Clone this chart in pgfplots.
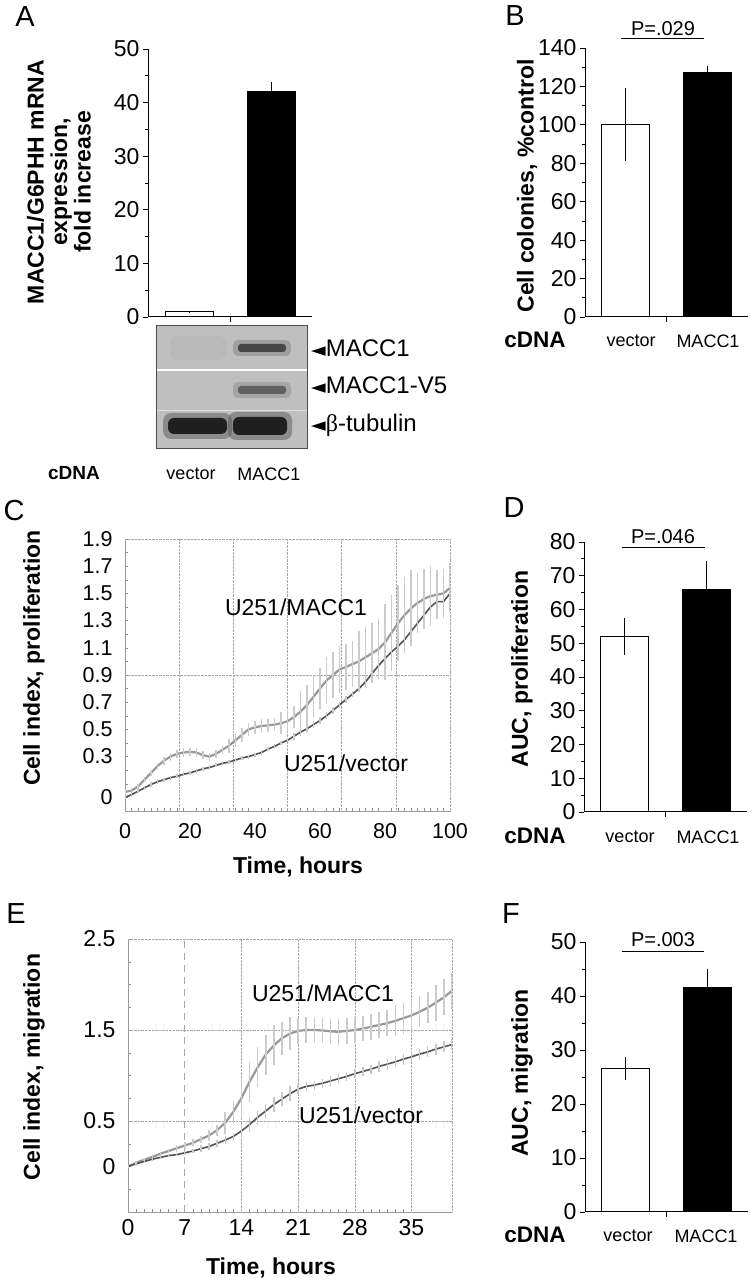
\documentclass[border=0pt]{standalone}
\usepackage{fontspec}
\setmainfont{Liberation Sans}
\newfontfamily\dejavu{DejaVu Sans}
\newfontfamily\sergreek{Liberation Serif}
\usepackage{pgfplots}
\usepackage{pgfplotstable}
\pgfplotsset{compat=1.18}
\newcommand\tk{\fontsize{23}{25}\selectfont}
\newcommand\tkc{\fontsize{21.5}{23}\selectfont}
\newcommand\lab{\fontsize{23}{23.5}\selectfont\bfseries}
\newcommand\cat{\fontsize{18}{20}\selectfont}
\newcommand\cdna{\fontsize{19}{21}\selectfont\bfseries}
\newcommand\cdnab{\fontsize{22.5}{24}\selectfont\bfseries}
\newcommand\pl{\fontsize{29}{31}\selectfont}
\newcommand\pv{\fontsize{20}{22}\selectfont}
\newcommand\cl{\fontsize{23}{25}\selectfont}
\newcommand\bl{\fontsize{24}{26}\selectfont}

\pgfplotstableread{
t v e
0 0.04 0.02
2 0.05 0.02
4 0.08 0.02
6 0.13 0.02
8 0.18 0.02
10 0.23 0.02
12 0.27 0.03
14 0.30 0.03
16 0.32 0.03
18 0.33 0.03
20 0.335 0.03
22 0.33 0.03
24 0.31 0.03
26 0.30 0.03
28 0.32 0.03
30 0.35 0.03
32 0.38 0.05
34 0.42 0.05
36 0.46 0.05
38 0.50 0.05
40 0.515 0.05
42 0.525 0.05
44 0.53 0.05
46 0.535 0.05
48 0.545 0.08
50 0.56 0.08
52 0.59 0.08
54 0.63 0.15
56 0.68 0.15
58 0.74 0.15
60 0.80 0.15
62 0.86 0.17
64 0.90 0.17
66 0.94 0.17
68 0.96 0.17
70 0.98 0.17
72 1.00 0.22
74 1.03 0.22
76 1.06 0.22
78 1.09 0.22
80 1.14 0.28
82 1.21 0.28
84 1.28 0.28
86 1.34 0.28
88 1.39 0.28
90 1.43 0.22
92 1.46 0.22
94 1.48 0.22
96 1.49 0.18
98 1.50 0.18
100 1.54 0.18
}\cMACC

\pgfplotstableread{
t v e
0 0.00 0.015
2 0.02 0.015
4 0.045 0.015
6 0.07 0.015
8 0.095 0.015
10 0.115 0.015
12 0.13 0.015
14 0.145 0.015
16 0.155 0.015
18 0.17 0.015
20 0.18 0.015
22 0.195 0.015
24 0.21 0.015
26 0.22 0.015
28 0.235 0.015
30 0.25 0.015
32 0.26 0.015
34 0.275 0.015
36 0.29 0.015
38 0.30 0.015
40 0.315 0.015
42 0.33 0.015
44 0.355 0.015
46 0.375 0.015
48 0.40 0.015
50 0.42 0.015
52 0.45 0.025
54 0.48 0.025
56 0.505 0.025
58 0.535 0.025
60 0.565 0.025
62 0.60 0.025
64 0.64 0.025
66 0.68 0.025
68 0.72 0.025
70 0.76 0.025
72 0.80 0.025
74 0.85 0.025
76 0.91 0.025
78 0.97 0.025
80 1.02 0.025
82 1.07 0.04
84 1.11 0.04
86 1.16 0.04
88 1.22 0.04
90 1.28 0.04
92 1.34 0.04
94 1.40 0.04
96 1.44 0.04
98 1.44 0.04
100 1.50 0.04
}\cVec

\pgfplotstableread{
t v e
0 0.00 0.02
1 0.04 0.02
2 0.075 0.02
3 0.105 0.02
4 0.14 0.02
5 0.17 0.02
6 0.20 0.04
7 0.23 0.04
8 0.26 0.04
9 0.30 0.04
10 0.34 0.06
11 0.40 0.06
12 0.48 0.12
13 0.60 0.12
14 0.75 0.22
15 0.93 0.22
16 1.09 0.22
17 1.23 0.22
18 1.33 0.22
19 1.41 0.18
20 1.46 0.18
21 1.49 0.14
22 1.50 0.14
23 1.50 0.14
24 1.495 0.14
25 1.485 0.14
26 1.48 0.14
27 1.49 0.14
28 1.50 0.14
29 1.515 0.14
30 1.535 0.14
31 1.555 0.14
32 1.575 0.14
33 1.60 0.17
34 1.63 0.17
35 1.66 0.17
36 1.70 0.17
37 1.745 0.17
38 1.80 0.20
39 1.86 0.20
40 1.93 0.20
}\eMACC

\pgfplotstableread{
t v e
0 0.00 0.02
1 0.03 0.02
2 0.055 0.02
3 0.08 0.02
4 0.10 0.02
5 0.12 0.02
6 0.13 0.02
7 0.15 0.02
8 0.17 0.02
9 0.195 0.04
10 0.22 0.04
11 0.255 0.04
12 0.29 0.04
13 0.33 0.04
14 0.39 0.08
15 0.46 0.08
16 0.54 0.08
17 0.61 0.08
18 0.68 0.08
19 0.74 0.08
20 0.80 0.08
21 0.85 0.05
22 0.88 0.05
23 0.895 0.05
24 0.915 0.05
25 0.94 0.05
26 0.965 0.05
27 0.99 0.05
28 1.02 0.05
29 1.045 0.05
30 1.07 0.05
31 1.10 0.06
32 1.125 0.06
33 1.15 0.06
34 1.18 0.06
35 1.205 0.06
36 1.235 0.06
37 1.26 0.06
38 1.29 0.06
39 1.315 0.06
40 1.34 0.06
}\eVec

\pgfplotsset{
  barax/.style={scale only axis, width=163pt, height=270pt, xmin=-0.5, xmax=1.5,
    axis x line*=bottom, axis y line*=left, axis line style={black, line width=1pt},
    xtick={0.5}, xticklabels={}, tick align=outside, major tick length=5pt,
    minor tick length=3pt, tick style={black, line width=0.8pt}, minor y tick num=1,
    ymin=0, ticklabel style={font=\tk}, /pgf/number format/assume math mode=true, clip=false},
  whitebar/.style={ybar, bar width=48pt, bar shift=0pt, fill=white, draw=black, line width=1pt,
    error bars/.cd, y dir=both, y explicit, error mark=none, error bar style={black, line width=1pt}},
  blackbar/.style={ybar, bar width=48pt, bar shift=0pt, fill=black, draw=black, line width=1pt,
    error bars/.cd, y dir=both, y explicit, error mark=none, error bar style={black, line width=1pt}},
  lineax/.style={scale only axis, axis x line*=bottom, axis y line*=left,
    axis line style={black!40, line width=0.6pt}, tick align=inside, major tick length=0pt,
    minor tick length=3pt, minor tick style={black!45, line width=0.5pt},
    ticklabel style={font=\tk}, /pgf/number format/assume math mode=true,
    major grid style={densely dotted, black!35, line width=0.6pt}},
  macc/.style={no marks, black!40, line width=2.2pt,
    error bars/.cd, y dir=both, y explicit, error mark=none, error bar style={black!20, line width=1.6pt}},
  vec/.style={no marks, black!68, line width=1.6pt,
    error bars/.cd, y dir=both, y explicit, error mark=none, error bar style={black!22, line width=1.4pt}},
}

\begin{document}
\begin{tikzpicture}[x=1pt,y=1pt]
\fill[white] (0,0) rectangle (752,1282);

% ---------- Panel A ----------
\begin{axis}[barax, anchor=south west, at={(148pt,965pt)}, width=164pt, height=268pt, ymax=50, ytick distance=10]
\addplot[whitebar] coordinates {(0,1) +- (0,0.15)};
\addplot[blackbar] coordinates {(1,42) +- (0,1.8)};
\end{axis}

% blot
\fill[black!25] (156,834) rectangle (307,957);
\fill[black!29, opacity=0.6, rounded corners=8pt] (170,922) rectangle (226,946);
\draw[white, line width=1.8pt] (156,912) -- (307,912);
\draw[black!12, line width=0.8pt] (156,872) -- (307,872);
\fill[black!50, opacity=0.5, rounded corners=5pt] (233,926) rectangle (291,942);
\fill[black!72, rounded corners=3pt] (238,930) rectangle (286,938);
\fill[black!45, opacity=0.5, rounded corners=5pt] (233,884) rectangle (291,900);
\fill[black!62, rounded corners=3pt] (238,888) rectangle (286,896);
\fill[black!65, opacity=0.5, rounded corners=8pt] (163,843) rectangle (232,869);
\fill[black!88, rounded corners=6pt] (168,848) rectangle (227,864);
\fill[black!65, opacity=0.5, rounded corners=8pt] (228,842) rectangle (292,870);
\fill[black!88, rounded corners=6pt] (233,847) rectangle (287,865);
\draw[black!70, line width=0.8pt] (156,834) rectangle (307,957);
\node[anchor=west, font=\bl, inner sep=0pt] at (311,934) {{\dejavu\fontsize{19}{20}\selectfont ◄}MACC1};
\node[anchor=west, font=\bl, inner sep=0pt] at (311,897) {{\dejavu\fontsize{19}{20}\selectfont ◄}MACC1-V5};
\node[anchor=west, font=\bl, inner sep=0pt] at (311,857) {{\dejavu\fontsize{19}{20}\selectfont ◄}{\sergreek β}-tubulin};

\node[font=\pl] at (25,1265) {A};
\node[font=\lab, rotate=90, align=center] at (59,1100) {MACC1/G6PHH mRNA\\expression,\\fold increase};
\node[font=\cdna] at (74,809) {cDNA};
\node[font=\cat] at (191,808) {vector};
\node[font=\cat] at (269,808) {MACC1};

% ---------- Panel B ----------
\begin{axis}[barax, anchor=south west, at={(585pt,965pt)}, height=269pt, ymax=140, ytick distance=20]
\addplot[whitebar] coordinates {(0,100) +- (0,19)};
\addplot[blackbar] coordinates {(1,127.5) +- (0,3.2)};
\end{axis}
\node[font=\pl] at (515,1266) {B};
\node[font=\lab, rotate=90] at (527,1096) {Cell colonies, \%control};
\node[font=\pv] at (663,1253) {P=.029};
\draw[line width=1pt] (621,1243) -- (704,1243);
\node[font=\cdnab] at (535,942) {cDNA};
\node[font=\cat] at (631,941) {vector};
\node[font=\cat] at (708,941) {MACC1};

% ---------- Panel C ----------
\begin{axis}[lineax, anchor=south west, at={(125pt,471pt)}, width=325pt, height=272pt,
  xmin=0, xmax=100, ymin=-0.1, ymax=1.9, ticklabel style={font=\tkc},
  xtick={0,20,40,60,80,100}, xticklabels={0,20,40,60,80,100}, minor x tick num=9,
  ytick={0,0.3,0.5,0.7,0.9,1.1,1.3,1.5,1.7,1.9},
  yticklabels={0,0.3,0.5,0.7,0.9,1.1,1.3,1.5,1.7,1.9},
  minor ytick={-0.1,0,0.1,0.2,0.3,0.4,0.5,0.6,0.7,0.8,0.9,1.0,1.1,1.2,1.3,1.4,1.5,1.6,1.7,1.8,1.9},
  extra x ticks={16.667,33.333,50,66.667,83.333,100}, extra x tick labels={}, extra x tick style={grid=major},
  extra y ticks={0.9,1.9}, extra y tick labels={}, extra y tick style={grid=major},
  xticklabel style={yshift=-9pt}, yticklabel style={xshift=-9pt}]
\addplot[macc] table[x=t, y=v, y error=e] {\cMACC};
\addplot[vec] table[x=t, y=v, y error=e] {\cVec};
\end{axis}
\node[font=\pl] at (14,771) {C};
\node[font=\lab, rotate=90] at (34,624) {Cell index, proliferation};
\node[font=\lab] at (298,415) {Time, hours};
\node[font=\cl] at (296,675) {U251/MACC1};
\node[font=\cl] at (346,519) {U251/vector};

% ---------- Panel D ----------
\begin{axis}[barax, anchor=south west, at={(584pt,470pt)}, ymax=80, ytick distance=10]
\addplot[whitebar] coordinates {(0,52) +- (0,5.4)};
\addplot[blackbar] coordinates {(1,66) +- (0,8.3)};
\end{axis}
\node[font=\pl] at (514,774) {D};
\node[font=\lab, rotate=90] at (522,613) {AUC, proliferation};
\node[font=\pv] at (663,745) {P=.046};
\draw[line width=1pt] (622,734) -- (705,734);
\node[font=\cdnab] at (535,446) {cDNA};
\node[font=\cat] at (630,445) {vector};
\node[font=\cat] at (708,445) {MACC1};

% ---------- Panel E ----------
\begin{axis}[lineax, anchor=south west, at={(128pt,70pt)}, width=324pt, height=273pt,
  xmin=0, xmax=40, ymin=-0.5, ymax=2.5,
  xtick={0,7,14,21,28,35}, xticklabels={0,\raisebox{-6pt}{7},14,21,28,35}, minor x tick num=6,
  ytick={0,0.5,1.5,2.5}, yticklabels={0,0.5,1.5,2.5},
  minor ytick={-0.5,-0.25,0,0.25,0.5,0.75,1,1.25,1.5,1.75,2,2.25,2.5},
  extra x ticks={14,21,28,35,40}, extra x tick labels={}, extra x tick style={grid=major},
  extra y ticks={0.5,1.5,2.5}, extra y tick labels={}, extra y tick style={grid=major},
  xticklabel style={yshift=-4pt}, yticklabel style={xshift=-9pt}]
\draw[black!35, dash pattern=on 7pt off 5pt, line width=0.8pt] (axis cs:7,-0.5) -- (axis cs:7,2.5);
\addplot[macc] table[x=t, y=v, y error=e] {\eMACC};
\addplot[vec] table[x=t, y=v, y error=e] {\eVec};
\end{axis}
\node[font=\pl] at (16,368) {E};
\node[font=\lab, rotate=90] at (34,215) {Cell index, migration};
\node[font=\lab] at (271,14) {Time, hours};
\node[font=\cl] at (323,289) {U251/MACC1};
\node[font=\cl] at (361,167) {U251/vector};

% ---------- Panel F ----------
\begin{axis}[barax, anchor=south west, at={(585pt,70pt)}, ymax=50, ytick distance=10]
\addplot[whitebar] coordinates {(0,26.6) +- (0,2.1)};
\addplot[blackbar] coordinates {(1,41.5) +- (0,3.5)};
\end{axis}
\node[font=\pl] at (511,368) {F};
\node[font=\lab, rotate=90] at (522,209) {AUC, migration};
\node[font=\pv] at (663,342) {P=.003};
\draw[line width=1pt] (622,330) -- (704,330);
\node[font=\cdnab] at (535,47) {cDNA};
\node[font=\cat] at (628,46) {vector};
\node[font=\cat] at (706,46) {MACC1};
\end{tikzpicture}
\end{document}
